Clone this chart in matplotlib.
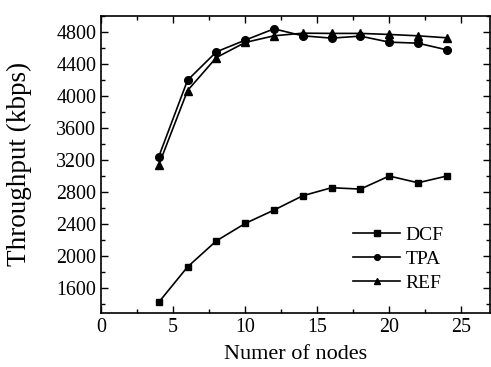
import numpy as np
import matplotlib.pyplot as plt
from matplotlib.ticker import MultipleLocator

plt.rcParams['font.family'] = ['Liberation Serif', 'DejaVu Serif']

nodes = [4, 6, 8, 10, 12, 14, 16, 18, 20, 22, 24]
dcf = [1425, 1866, 2191, 2408, 2575, 2754, 2854, 2837, 3000, 2916, 3000]
tpa = [3241, 4196, 4550, 4696, 4837, 4750, 4721, 4746, 4671, 4658, 4575]
ref = [3137, 4067, 4479, 4667, 4750, 4783, 4780, 4780, 4767, 4750, 4725]

fig = plt.figure(figsize=(4.91, 3.67), dpi=100)
ax = fig.add_axes([0.206, 0.147, 0.792, 0.81])

ax.plot(nodes, dcf, 'k-s', markersize=5, linewidth=1.2, label='DCF')
ax.plot(nodes, tpa, 'k-o', markersize=5.5, linewidth=1.2, label='TPA')
ax.plot(nodes, ref, 'k-^', markersize=6, linewidth=1.2, label='REF')

ax.set_xlim(0, 27)
ax.set_ylim(1290, 5000)
ax.xaxis.set_major_locator(MultipleLocator(5))
ax.xaxis.set_minor_locator(MultipleLocator(2.5))
ax.yaxis.set_major_locator(MultipleLocator(400))
ax.yaxis.set_minor_locator(MultipleLocator(200))
ax.tick_params(which='both', direction='in', top=True, right=True, labelsize=14.4, width=1)
ax.tick_params(which='major', length=5)
ax.tick_params(which='minor', length=3)
for s in ax.spines.values():
    s.set_linewidth(1.2)

ax.set_xlabel('Numer of nodes', fontsize=16, labelpad=6)
ax.set_ylabel('Throughput (kbps)', fontsize=19.5)
ax.yaxis.set_label_coords(-0.177, 0.5)
ax.legend(loc='upper left', bbox_to_anchor=(0.684, 0.43), bbox_transform=fig.transFigure,
          frameon=False, fontsize=14, markerscale=0.75,
          handlelength=2.4, labelspacing=0.32, handletextpad=0.3)

fig.savefig('out.png', dpi=100)
